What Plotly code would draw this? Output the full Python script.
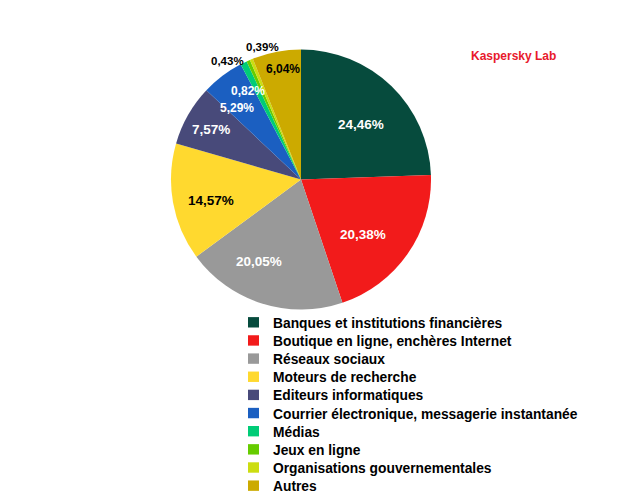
import plotly.graph_objects as go

categories = [
    "Banques et institutions financières",
    "Boutique en ligne, enchères Internet",
    "Réseaux sociaux",
    "Moteurs de recherche",
    "Editeurs informatiques",
    "Courrier électronique, messagerie instantanée",
    "Médias",
    "Jeux en ligne",
    "Organisations gouvernementales",
    "Autres",
]
values = [24.46, 20.38, 20.05, 14.57, 7.57, 5.29, 0.82, 0.43, 0.39, 6.04]
colors = ["#064b3d", "#f21b1b", "#999999", "#ffd92f", "#484a7a",
          "#1b5fc1", "#00cc77", "#66cc00", "#ccdd11", "#ccaa00"]
text_colors = ["white", "white", "white", "black", "white",
               "white", "white", "black", "black", "black"]

W, H = 630, 500


def fmt(v):
    return f"{v:.2f}".replace(".", ",") + "%"


fig = go.Figure(go.Pie(
    labels=categories,
    values=values,
    textinfo="none",
    sort=False,
    direction="clockwise",
    rotation=0,
    marker=dict(colors=colors, line=dict(width=0)),
    domain=dict(x=[171 / W, 431 / W], y=[1 - 309.5 / H, 1 - 49.5 / H]),
    hoverinfo="label+percent",
    showlegend=False,
))

# value labels (layout positions in pixels, text from data)
label_pos = [(361, 124), (363, 234), (259, 261), (211, 200), (211, 129),
             (237, 108), (248, 91), (227, 61), (262, 47), (283, 69)]
label_size = [13.5, 13.5, 13.5, 13.5, 13.5, 12, 12, 11.5, 11.5, 12]
for v, (px, py), c, s in zip(values, label_pos, text_colors, label_size):
    fig.add_annotation(x=px / W, y=1 - py / H, xref="paper", yref="paper",
                       xanchor="center", yanchor="middle",
                       text=fmt(v), showarrow=False,
                       font=dict(family="Liberation Sans", size=s, color=c, weight="bold"))

# legend
for i, (cat, col) in enumerate(zip(categories, colors)):
    yc = 322.3 + i * 18.15
    fig.add_shape(type="rect", xref="paper", yref="paper",
                  x0=248 / W, x1=259 / W, y0=1 - (yc - 5.2) / H, y1=1 - (yc + 5.2) / H,
                  fillcolor=col, line=dict(width=0))
    fig.add_annotation(x=271 / W, y=1 - (yc + 1) / H, xref="paper", yref="paper",
                       xanchor="left", yanchor="middle", text=cat, showarrow=False,
                       font=dict(family="Liberation Sans", size=13.8, color="black", weight="bold"))

fig.add_annotation(x=513 / W, y=1 - 56 / H, xref="paper", yref="paper",
                   xanchor="center", yanchor="middle",
                   text="Kaspersky Lab", showarrow=False,
                   font=dict(family="Liberation Sans", size=12, color="#e8192c", weight="bold"))

fig.update_layout(
    width=W, height=H,
    margin=dict(l=0, r=0, t=0, b=0),
    paper_bgcolor="white",
    showlegend=False,
)

fig.write_html("out.html", config={"displayModeBar": False},
               post_script="document.body.style.margin='0';document.body.style.overflow='hidden';")
